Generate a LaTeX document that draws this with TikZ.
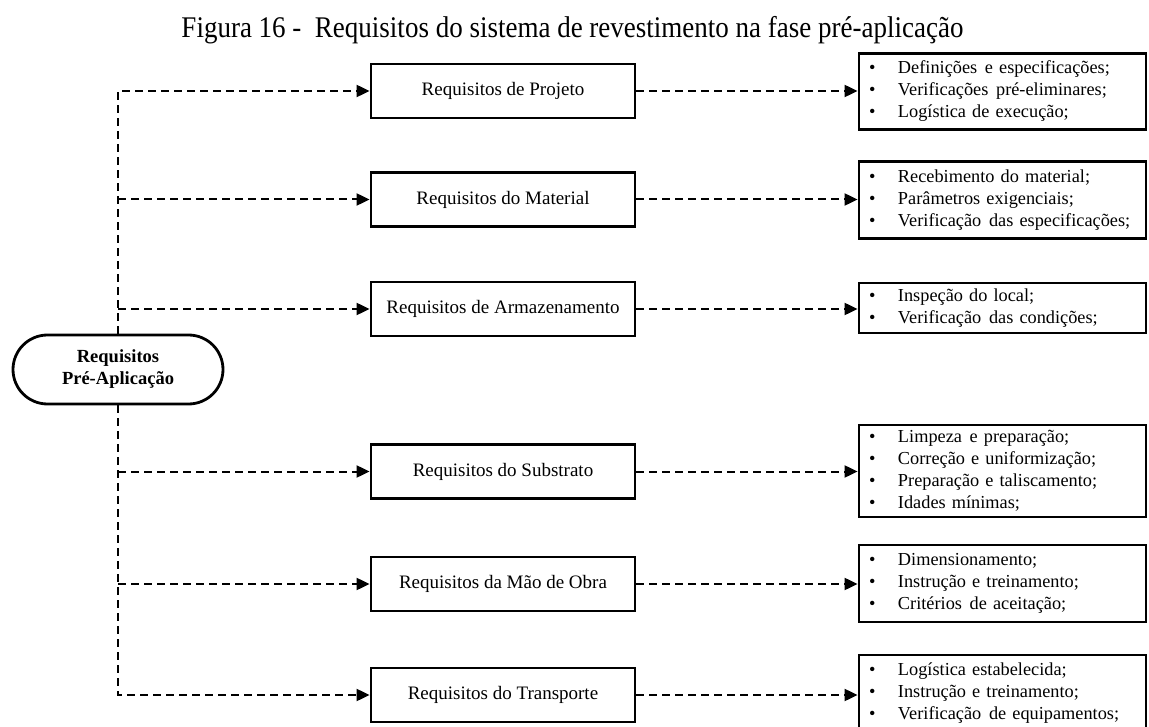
\documentclass[tikz,border=0pt]{standalone}
\usepackage{graphicx}
\usepackage{fontspec}
\setmainfont{Liberation Serif}
\usetikzlibrary{arrows.meta}
% one bullet line inside a detail box
\newcommand{\bulletline}[1]{\makebox[29pt][l]{\textbullet}#1}
% slightly wider word gap
\newcommand{\wgap}{\hspace{0.42em}}
\begin{document}
\begin{tikzpicture}[x=1pt,y=-1pt,
  trunk/.style={line width=2pt, dash pattern=on 8pt off 5pt},
  link/.style={trunk, -{Triangle[length=13pt,width=12pt]}},
  root/.style={draw, line width=2.8pt, rounded corners=34.5pt, fill=white,
    minimum width=210pt, minimum height=69pt, inner sep=0pt, align=center,
    font=\bfseries\fontsize{18.5}{22}\selectfont},
  stage/.style={draw, line width=2.8pt, fill=white, minimum width=264pt,
    minimum height=54pt, inner sep=0pt, font=\fontsize{19}{22}\selectfont},
  detail/.style={draw, line width=2.8pt, fill=white, minimum width=287pt,
    inner xsep=10pt, inner ysep=0pt, text width=267pt, align=left,
    font=\fontsize{18.3}{22}\selectfont}]
\useasboundingbox (0,0) rectangle (1149,727);

% caption
\node[anchor=base, font=\fontsize{30}{36}\selectfont] (title) at (572.5,38)
  {\scalebox{0.9}[1]{Figura 16 -\ \ Requisitos do sistema de revestimento na fase pré-aplicação}};

% root
\node[root] (o) at (118,369.5) {Requisitos\\Pré-Aplicação};

% requirement groups
\node[stage] (m1) at (503,91)    {Requisitos de Projeto};
\node[stage] (m2) at (503,199.5) {Requisitos do Material};
\node[stage] (m3) at (503,309)   {Requisitos de Armazenamento};
\node[stage] (m4) at (503,471.5) {Requisitos do Substrato};
\node[stage] (m5) at (503,584)   {Requisitos da Mão de Obra};
\node[stage] (m6) at (503,695)   {Requisitos do Transporte};

% details of each group
\node[detail, minimum height=76pt] (r1) at (1002.5,91.5) {%
  \bulletline{Definições\wgap e especificações;}\\
  \bulletline{Verificações\wgap pré-eliminares;}\\
  \bulletline{Logística de execução;}};
\node[detail, minimum height=77pt] (r2) at (1002.5,200) {%
  \bulletline{Recebimento do material;}\\
  \bulletline{Parâmetros exigenciais;}\\
  \bulletline{Verificação\wgap das especificações;}};
\node[detail, minimum height=50pt] (r3) at (1002.5,308) {%
  \bulletline{Inspeção do local;}\\
  \bulletline{Verificação\wgap das condições;}};
\node[detail, minimum height=92pt] (r4) at (1002.5,471) {%
  \bulletline{Limpeza\wgap e preparação;}\\
  \bulletline{Correção e uniformização;}\\
  \bulletline{Preparação e taliscamento;}\\
  \bulletline{Idades mínimas;}};
\node[detail, minimum height=77pt] (r5) at (1002.5,583.5) {%
  \bulletline{Dimensionamento;}\\
  \bulletline{Instrução e treinamento;}\\
  \bulletline{Critérios\wgap de aceitação;}};
\node[detail, minimum height=77pt] (r6) at (1002.5,693.5) {%
  \bulletline{Logística estabelecida;}\\
  \bulletline{Instrução e treinamento;}\\
  \bulletline{Verificação\wgap de equipamentos;}};

% trunk and branches from the root
\draw[link] (o.north) |- (m1.west);
\draw[link] (o.center |- m2.west) -- (m2.west);
\draw[link] (o.center |- m3.west) -- (m3.west);
\draw[link] (o.center |- m4.west) -- (m4.west);
\draw[link] (o.center |- m5.west) -- (m5.west);
\draw[link] (o.south) |- (m6.west);

% from each group to its details
\foreach \i in {1,...,6}
  \draw[link] (m\i.east) -- (m\i.east -| r\i.west);
\end{tikzpicture}
\end{document}
